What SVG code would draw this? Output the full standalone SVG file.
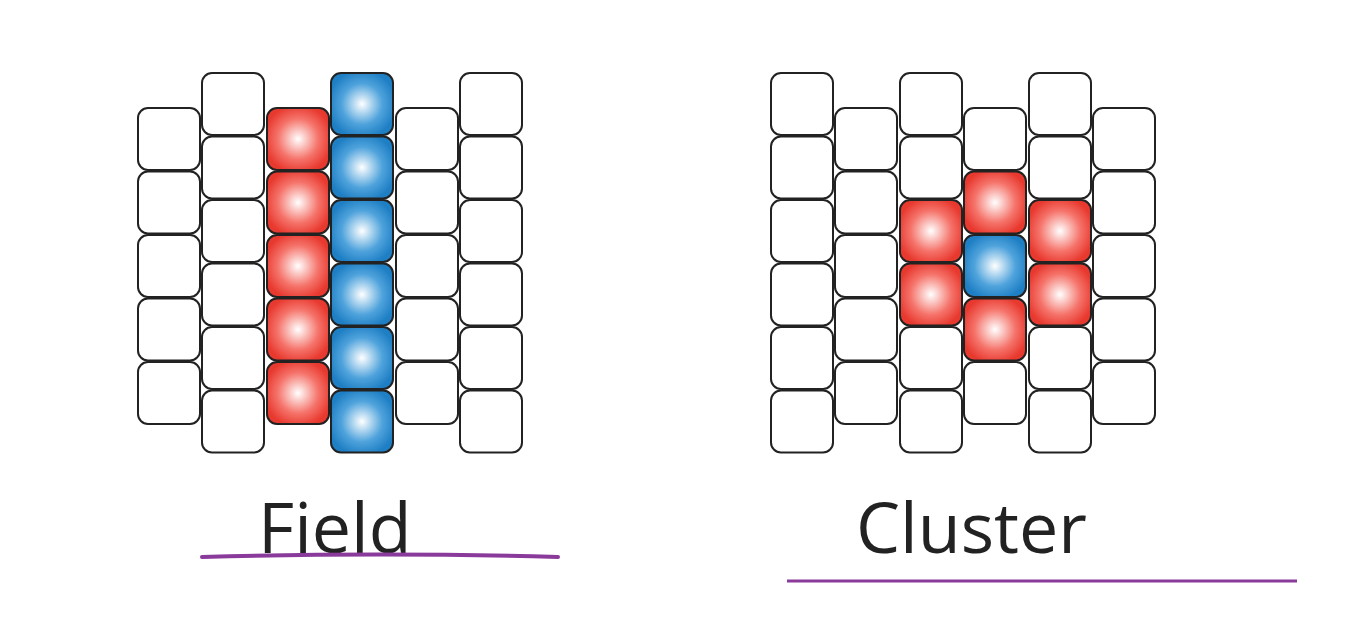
<svg xmlns="http://www.w3.org/2000/svg" width="1360" height="622" viewBox="0 0 1360 622">
<defs>
<radialGradient id="gr" cx="0.5" cy="0.5" r="0.55"><stop offset="0" stop-color="#ffffff"/><stop offset="0.6" stop-color="#f5736a"/><stop offset="1" stop-color="#e8392f"/></radialGradient>
<radialGradient id="gb" cx="0.5" cy="0.5" r="0.55"><stop offset="0" stop-color="#ffffff"/><stop offset="0.6" stop-color="#4fa3dc"/><stop offset="1" stop-color="#1f7fc4"/></radialGradient>
<style>
rect{stroke:#222;stroke-width:2;rx:10;ry:10;width:62px;height:62px}
.w{fill:#fff}.r{fill:url(#gr)}.b{fill:url(#gb)}
text{font-family:"Open Sans","Liberation Sans",sans-serif;font-size:70px;fill:#222}
</style>
</defs>
<rect width="1360" height="622" fill="#fff" style="stroke:none;width:1360px;height:622px;rx:0"/>
<g id="field">
<g class="c0"><rect class="w" x="138" y="108"/><rect class="w" x="138" y="171.5"/><rect class="w" x="138" y="235"/><rect class="w" x="138" y="298.5"/><rect class="w" x="138" y="362"/></g>
<g><rect class="w" x="202" y="73"/><rect class="w" x="202" y="136.5"/><rect class="w" x="202" y="200"/><rect class="w" x="202" y="263.5"/><rect class="w" x="202" y="327"/><rect class="w" x="202" y="390.5"/></g>
<g><rect class="r" x="267" y="108"/><rect class="r" x="267" y="171.5"/><rect class="r" x="267" y="235"/><rect class="r" x="267" y="298.5"/><rect class="r" x="267" y="362"/></g>
<g><rect class="b" x="331" y="73"/><rect class="b" x="331" y="136.5"/><rect class="b" x="331" y="200"/><rect class="b" x="331" y="263.5"/><rect class="b" x="331" y="327"/><rect class="b" x="331" y="390.5"/></g>
<g><rect class="w" x="396" y="108"/><rect class="w" x="396" y="171.5"/><rect class="w" x="396" y="235"/><rect class="w" x="396" y="298.5"/><rect class="w" x="396" y="362"/></g>
<g><rect class="w" x="460" y="73"/><rect class="w" x="460" y="136.5"/><rect class="w" x="460" y="200"/><rect class="w" x="460" y="263.5"/><rect class="w" x="460" y="327"/><rect class="w" x="460" y="390.5"/></g>
<text x="258" y="553">Field</text>
<path d="M202 557 Q380 552 558 557" fill="none" stroke="#8a3a9a" stroke-width="4" stroke-linecap="round"/>
</g>
<g id="cluster">
<g><rect class="w" x="771" y="73"/><rect class="w" x="771" y="136.5"/><rect class="w" x="771" y="200"/><rect class="w" x="771" y="263.5"/><rect class="w" x="771" y="327"/><rect class="w" x="771" y="390.5"/></g>
<g><rect class="w" x="835" y="108"/><rect class="w" x="835" y="171.5"/><rect class="w" x="835" y="235"/><rect class="w" x="835" y="298.5"/><rect class="w" x="835" y="362"/></g>
<g><rect class="w" x="900" y="73"/><rect class="w" x="900" y="136.5"/><rect class="r" x="900" y="200"/><rect class="r" x="900" y="263.5"/><rect class="w" x="900" y="327"/><rect class="w" x="900" y="390.5"/></g>
<g><rect class="w" x="964" y="108"/><rect class="r" x="964" y="171.5"/><rect class="b" x="964" y="235"/><rect class="r" x="964" y="298.5"/><rect class="w" x="964" y="362"/></g>
<g><rect class="w" x="1029" y="73"/><rect class="w" x="1029" y="136.5"/><rect class="r" x="1029" y="200"/><rect class="r" x="1029" y="263.5"/><rect class="w" x="1029" y="327"/><rect class="w" x="1029" y="390.5"/></g>
<g><rect class="w" x="1093" y="108"/><rect class="w" x="1093" y="171.5"/><rect class="w" x="1093" y="235"/><rect class="w" x="1093" y="298.5"/><rect class="w" x="1093" y="362"/></g>
<text x="856" y="553">Cluster</text>
<line x1="787" y1="581" x2="1297" y2="581" stroke="#8a3a9a" stroke-width="3"/>
</g>
</svg>
